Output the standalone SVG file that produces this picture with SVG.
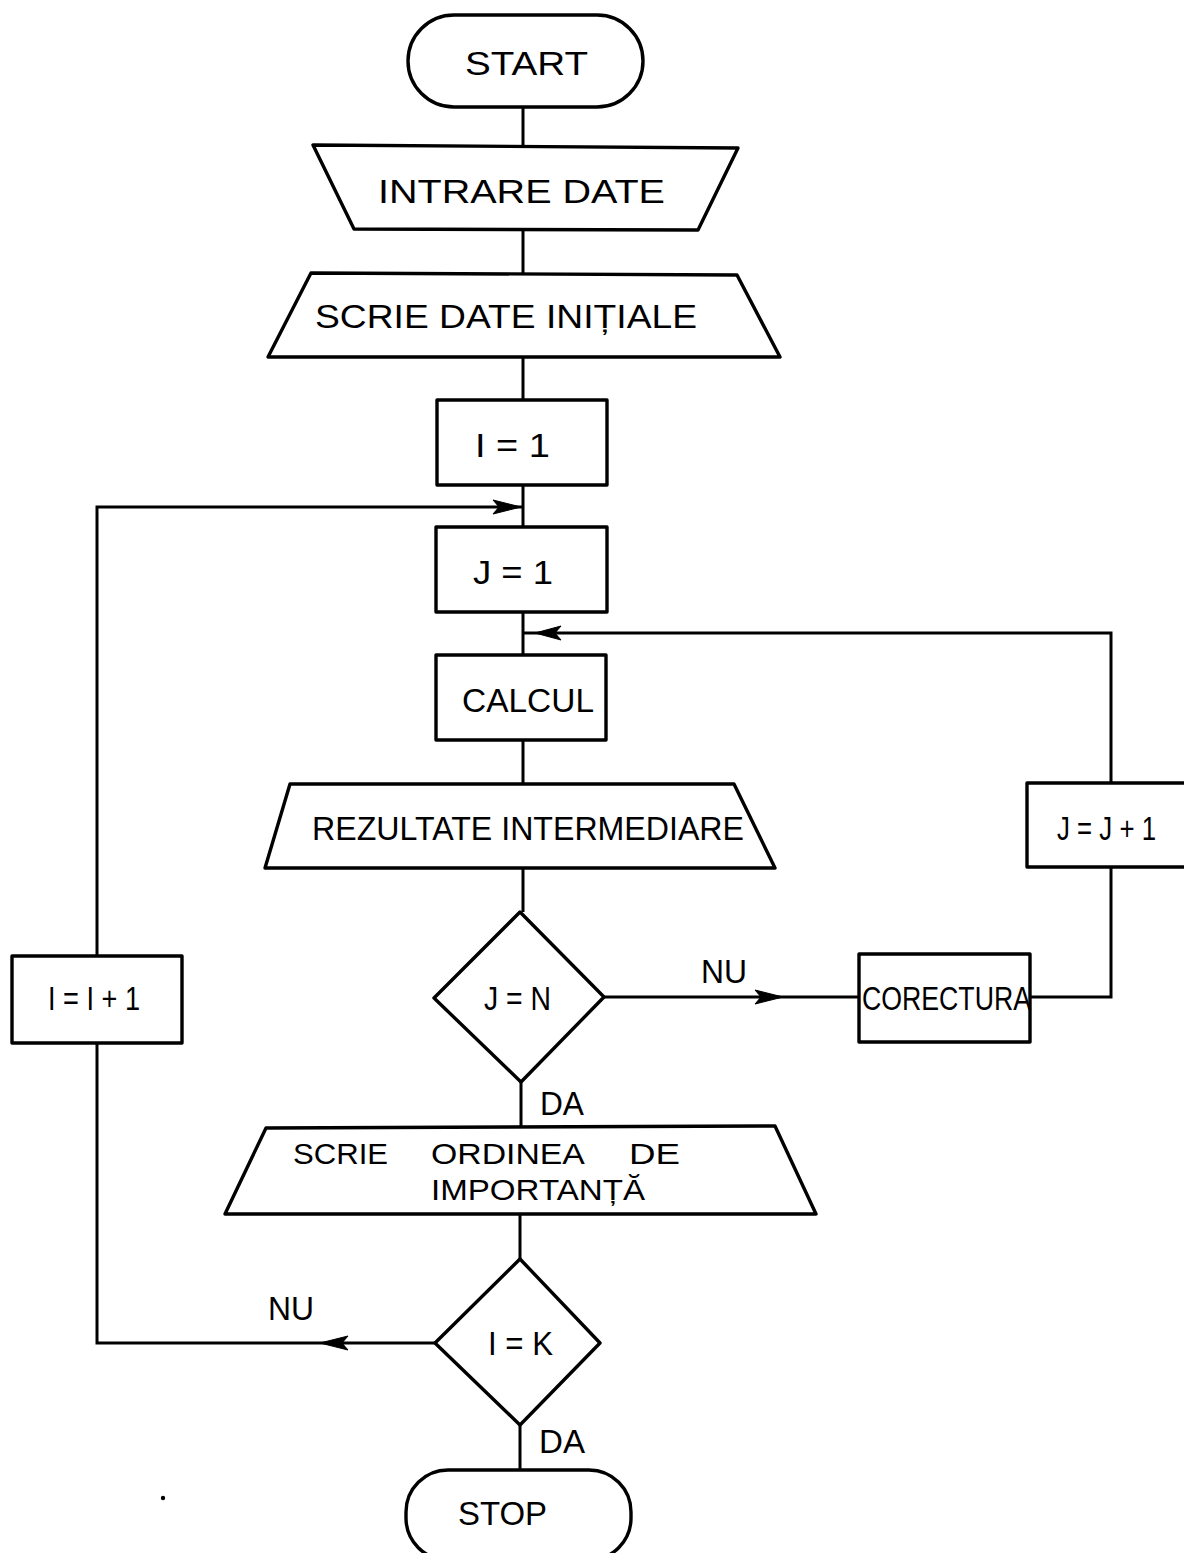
<svg xmlns="http://www.w3.org/2000/svg" width="1184" height="1553" viewBox="0 0 1184 1553">
  <style>
    .shape { fill: none; stroke: #000; stroke-width: 3.4; stroke-linejoin: round; }
    .line { fill: none; stroke: #000; stroke-width: 3; stroke-linejoin: miter; }
    .head { fill: #000; stroke: #000; stroke-width: 1; stroke-linejoin: miter; }
    text { font-family: "Liberation Sans", "DejaVu Sans", sans-serif; font-size: 34px; fill: #000; }
    .small { font-size: 30px; }
  </style>
  <rect width="1184" height="1553" fill="#fff"/>

  <!-- connectors -->
  <g id="connectors">
    <!-- main flow -->
    <path class="line" d="M523 107 V145 M523 230 V273 M523 357 V400 M523 485 V527 M523 612 V655 M523 740 V784 M523 868 V912 M521 1082 V1127 M520 1214 V1259 M520 1425 V1470"/>
    <!-- outer loop: I = K, NU -> I = I + 1 -> back above J = 1 -->
    <path class="line" d="M435 1343 H97 V1043 M97 956 V507 H523"/>
    <polygon class="head" points="521,507 493,500 499,507 493,514"/>
    <polygon class="head" points="320,1343 348,1336 342,1343 348,1350"/>
    <!-- inner loop: J = N, NU -> CORECTURA -> J = J + 1 -> back above CALCUL -->
    <path class="line" d="M604 997 H859 M1030 997 H1111 V867 M1111 783 V633 H523"/>
    <polygon class="head" points="783,997 755,990 761,997 755,1004"/>
    <polygon class="head" points="535,633 561,626 555,633 561,640"/>
  </g>

  <g id="start">
    <rect class="shape" x="408" y="15" width="235" height="92" rx="46" ry="46"/>
    <text x="465" y="75" textLength="123" lengthAdjust="spacingAndGlyphs">START</text>
  </g>

  <g id="intrare-date">
    <polygon class="shape" points="313,145 738,148 698,230 354,229"/>
    <text x="378" y="203" textLength="287" lengthAdjust="spacingAndGlyphs">INTRARE  DATE</text>
  </g>

  <g id="scrie-date-initiale">
    <polygon class="shape" points="311,273 737,275 780,357 268,357"/>
    <text x="315" y="328" textLength="382" lengthAdjust="spacingAndGlyphs">SCRIE DATE INIȚIALE</text>
  </g>

  <g id="i-1">
    <rect class="shape" x="437" y="400" width="170" height="85"/>
    <text x="475" y="457" textLength="75" lengthAdjust="spacingAndGlyphs">I = 1</text>
  </g>

  <g id="j-1">
    <rect class="shape" x="436" y="527" width="171" height="85"/>
    <text x="473" y="584" textLength="80" lengthAdjust="spacingAndGlyphs">J = 1</text>
  </g>

  <g id="calcul">
    <rect class="shape" x="436" y="655" width="170" height="85"/>
    <text x="462" y="712" textLength="132" lengthAdjust="spacingAndGlyphs">CALCUL</text>
  </g>

  <g id="rezultate-intermediare">
    <polygon class="shape" points="290,784 734,784 775,868 265,868"/>
    <text x="312" y="840" textLength="432" lengthAdjust="spacingAndGlyphs">REZULTATE INTERMEDIARE</text>
  </g>

  <g id="j-j-plus-1">
    <!-- box runs past the right margin, so its right side is not drawn -->
    <path class="shape" d="M1184 783 H1027 V867 H1184"/>
    <text x="1057" y="840" textLength="99" lengthAdjust="spacingAndGlyphs">J = J + 1</text>
  </g>

  <g id="decizie-j-n">
    <polygon class="shape" points="520,912 604,997 521,1082 434,998"/>
    <text x="484" y="1010" textLength="67" lengthAdjust="spacingAndGlyphs">J = N</text>
    <text x="701" y="983" textLength="46" lengthAdjust="spacingAndGlyphs">NU</text>
    <text x="540" y="1115" textLength="44" lengthAdjust="spacingAndGlyphs">DA</text>
  </g>

  <g id="corectura">
    <rect class="shape" x="859" y="954" width="171" height="88"/>
    <text x="862" y="1010" textLength="169" lengthAdjust="spacingAndGlyphs">CORECTURA</text>
  </g>

  <g id="i-i-plus-1">
    <rect class="shape" x="12" y="956" width="170" height="87"/>
    <text x="48" y="1010" textLength="92" lengthAdjust="spacingAndGlyphs">I = I + 1</text>
  </g>

  <g id="scrie-ordinea">
    <polygon class="shape" points="266,1128 775,1126 816,1214 225,1214"/>
    <text class="small" y="1164">
      <tspan x="293" textLength="95" lengthAdjust="spacingAndGlyphs">SCRIE</tspan>
      <tspan x="431" textLength="152" lengthAdjust="spacingAndGlyphs">ORDINEA</tspan>
      <tspan x="629" textLength="51" lengthAdjust="spacingAndGlyphs">DE</tspan>
    </text>
    <text class="small" x="431" y="1200" textLength="214" lengthAdjust="spacingAndGlyphs">IMPORTANȚĂ</text>
  </g>

  <g id="decizie-i-k">
    <polygon class="shape" points="520,1259 600,1343 520,1425 435,1343"/>
    <text x="488" y="1355" textLength="65" lengthAdjust="spacingAndGlyphs">I = K</text>
    <text x="268" y="1320" textLength="46" lengthAdjust="spacingAndGlyphs">NU</text>
    <text x="539" y="1453" textLength="46" lengthAdjust="spacingAndGlyphs">DA</text>
  </g>

  <g id="stop">
    <rect class="shape" x="406" y="1470" width="225" height="90" rx="42" ry="42"/>
    <text x="458" y="1525" textLength="89" lengthAdjust="spacingAndGlyphs">STOP</text>
  </g>

  <circle cx="163" cy="1498" r="2.2" fill="#000"/>
</svg>
